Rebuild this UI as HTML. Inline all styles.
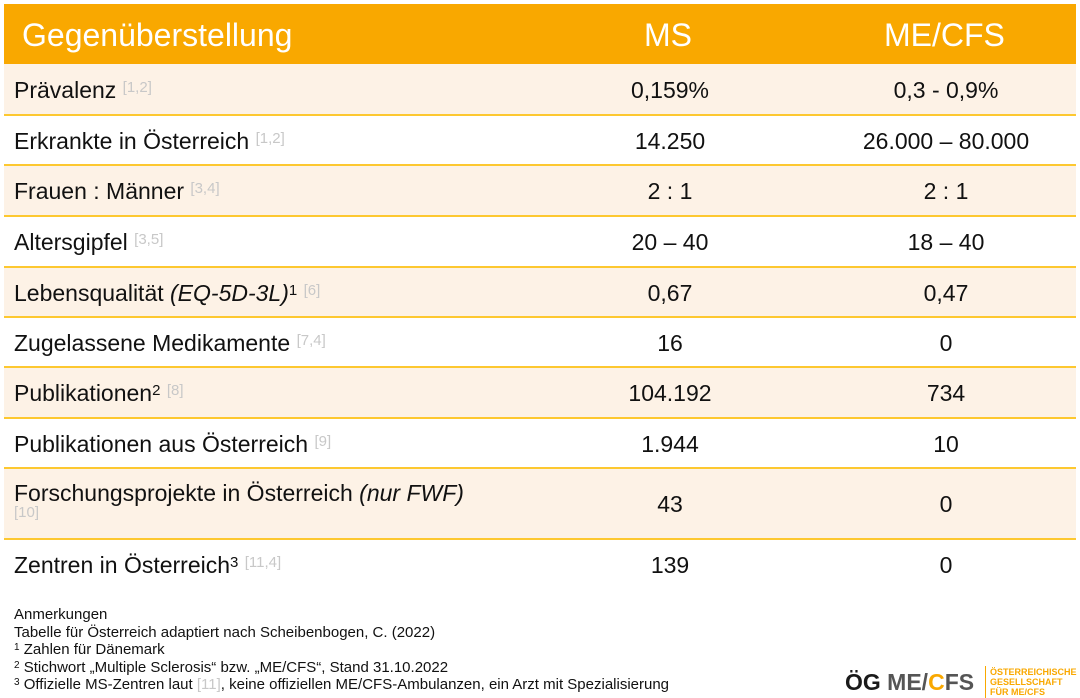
<!DOCTYPE html>
<html><head><meta charset="utf-8"><style>
body{margin:0;width:1080px;height:698px;background:#fff;position:relative;font-family:"Liberation Sans",sans-serif;overflow:hidden}
.hdr{position:absolute;left:4px;top:4px;width:1072px;height:60px;background:#f9a800}
.hdr span{position:absolute;top:13px;color:#fff;font-size:32px;line-height:36px}
.row{position:absolute;left:4px;width:1072px;border-bottom:2px solid #fdc830;box-sizing:border-box}
.row.c{background:#fdf2e6}
.row .l{position:absolute;left:10px;font-size:23px;color:#111;white-space:nowrap}
.row .v{position:absolute;width:200px;text-align:center;font-size:23px;color:#111}
.r{color:#c8c8c8;font-size:15px;vertical-align:6px}
sup.n{font-size:15px;vertical-align:6px}
.notes{position:absolute;left:14px;top:606px;font-size:15px;color:#111;line-height:17.5px;white-space:nowrap}
.notes sup{font-size:10px;vertical-align:4px;line-height:0}
</style></head><body>
<div class="hdr"><span style="left:18px">Gegenüberstellung</span><span style="left:640px">MS</span><span style="left:880px">ME/CFS</span></div>

<div class="row c" style="top:64px;height:52px"><div class="l" style="top:13px">Prävalenz <span class="r">[1,2]</span></div><div class="v" style="left:566px;top:13px">0,159%</div><div class="v" style="left:842px;top:13px">0,3 - 0,9%</div></div>
<div class="row" style="top:116px;height:50px"><div class="l" style="top:12px">Erkrankte in Österreich <span class="r">[1,2]</span></div><div class="v" style="left:566px;top:12px">14.250</div><div class="v" style="left:842px;top:12px">26.000 – 80.000</div></div>
<div class="row c" style="top:166px;height:51px"><div class="l" style="top:12px">Frauen : Männer <span class="r">[3,4]</span></div><div class="v" style="left:566px;top:12px">2 : 1</div><div class="v" style="left:842px;top:12px">2 : 1</div></div>
<div class="row" style="top:217px;height:51px"><div class="l" style="top:12px">Altersgipfel <span class="r">[3,5]</span></div><div class="v" style="left:566px;top:12px">20 – 40</div><div class="v" style="left:842px;top:12px">18 – 40</div></div>
<div class="row c" style="top:268px;height:50px"><div class="l" style="top:12px">Lebensqualität <i>(EQ-5D-3L)</i><sup class="n">1</sup> <span class="r">[6]</span></div><div class="v" style="left:566px;top:12px">0,67</div><div class="v" style="left:842px;top:12px">0,47</div></div>
<div class="row" style="top:318px;height:50px"><div class="l" style="top:12px">Zugelassene Medikamente <span class="r">[7,4]</span></div><div class="v" style="left:566px;top:12px">16</div><div class="v" style="left:842px;top:12px">0</div></div>
<div class="row c" style="top:368px;height:51px"><div class="l" style="top:12px">Publikationen<sup class="n">2</sup> <span class="r">[8]</span></div><div class="v" style="left:566px;top:12px">104.192</div><div class="v" style="left:842px;top:12px">734</div></div>
<div class="row" style="top:419px;height:50px"><div class="l" style="top:12px">Publikationen aus Österreich <span class="r">[9]</span></div><div class="v" style="left:566px;top:12px">1.944</div><div class="v" style="left:842px;top:12px">10</div></div>
<div class="row c" style="top:469px;height:71px"><div class="l" style="top:11px">Forschungsprojekte in Österreich <i>(nur FWF)</i></div><div class="l" style="top:33px"><span class="r">[10]</span></div><div class="v" style="left:566px;top:22px">43</div><div class="v" style="left:842px;top:22px">0</div></div>
<div class="row" style="top:540px;height:52px;border-bottom:none"><div class="l" style="top:12px">Zentren in Österreich<sup class="n">3</sup> <span class="r">[11,4]</span></div><div class="v" style="left:566px;top:12px">139</div><div class="v" style="left:842px;top:12px">0</div></div>

<div class="notes">Anmerkungen<br>Tabelle für Österreich adaptiert nach Scheibenbogen, C. (2022)<br><sup>1</sup> Zahlen für Dänemark<br><sup>2</sup> Stichwort „Multiple Sclerosis“ bzw. „ME/CFS“, Stand 31.10.2022<br><sup>3</sup> Offizielle MS-Zentren laut <span style="color:#c8c8c8">[11]</span>, keine offiziellen ME/CFS-Ambulanzen, ein Arzt mit Spezialisierung</div>

<div style="position:absolute;left:845px;top:669px;font-size:23px;font-weight:bold;line-height:26px;white-space:nowrap"><span style="color:#1a1a1a">ÖG</span> <span style="color:#555">ME/<span style="color:#f9a800">C</span>FS</span></div>
<div style="position:absolute;left:985px;top:666px;height:32px;border-left:1px solid #f9a800"></div>
<div style="position:absolute;left:990px;top:667px;font-size:9px;line-height:10px;color:#f9a800;font-weight:bold">ÖSTERREICHISCHE<br>GESELLSCHAFT<br>FÜR ME/CFS</div>
</body></html>
